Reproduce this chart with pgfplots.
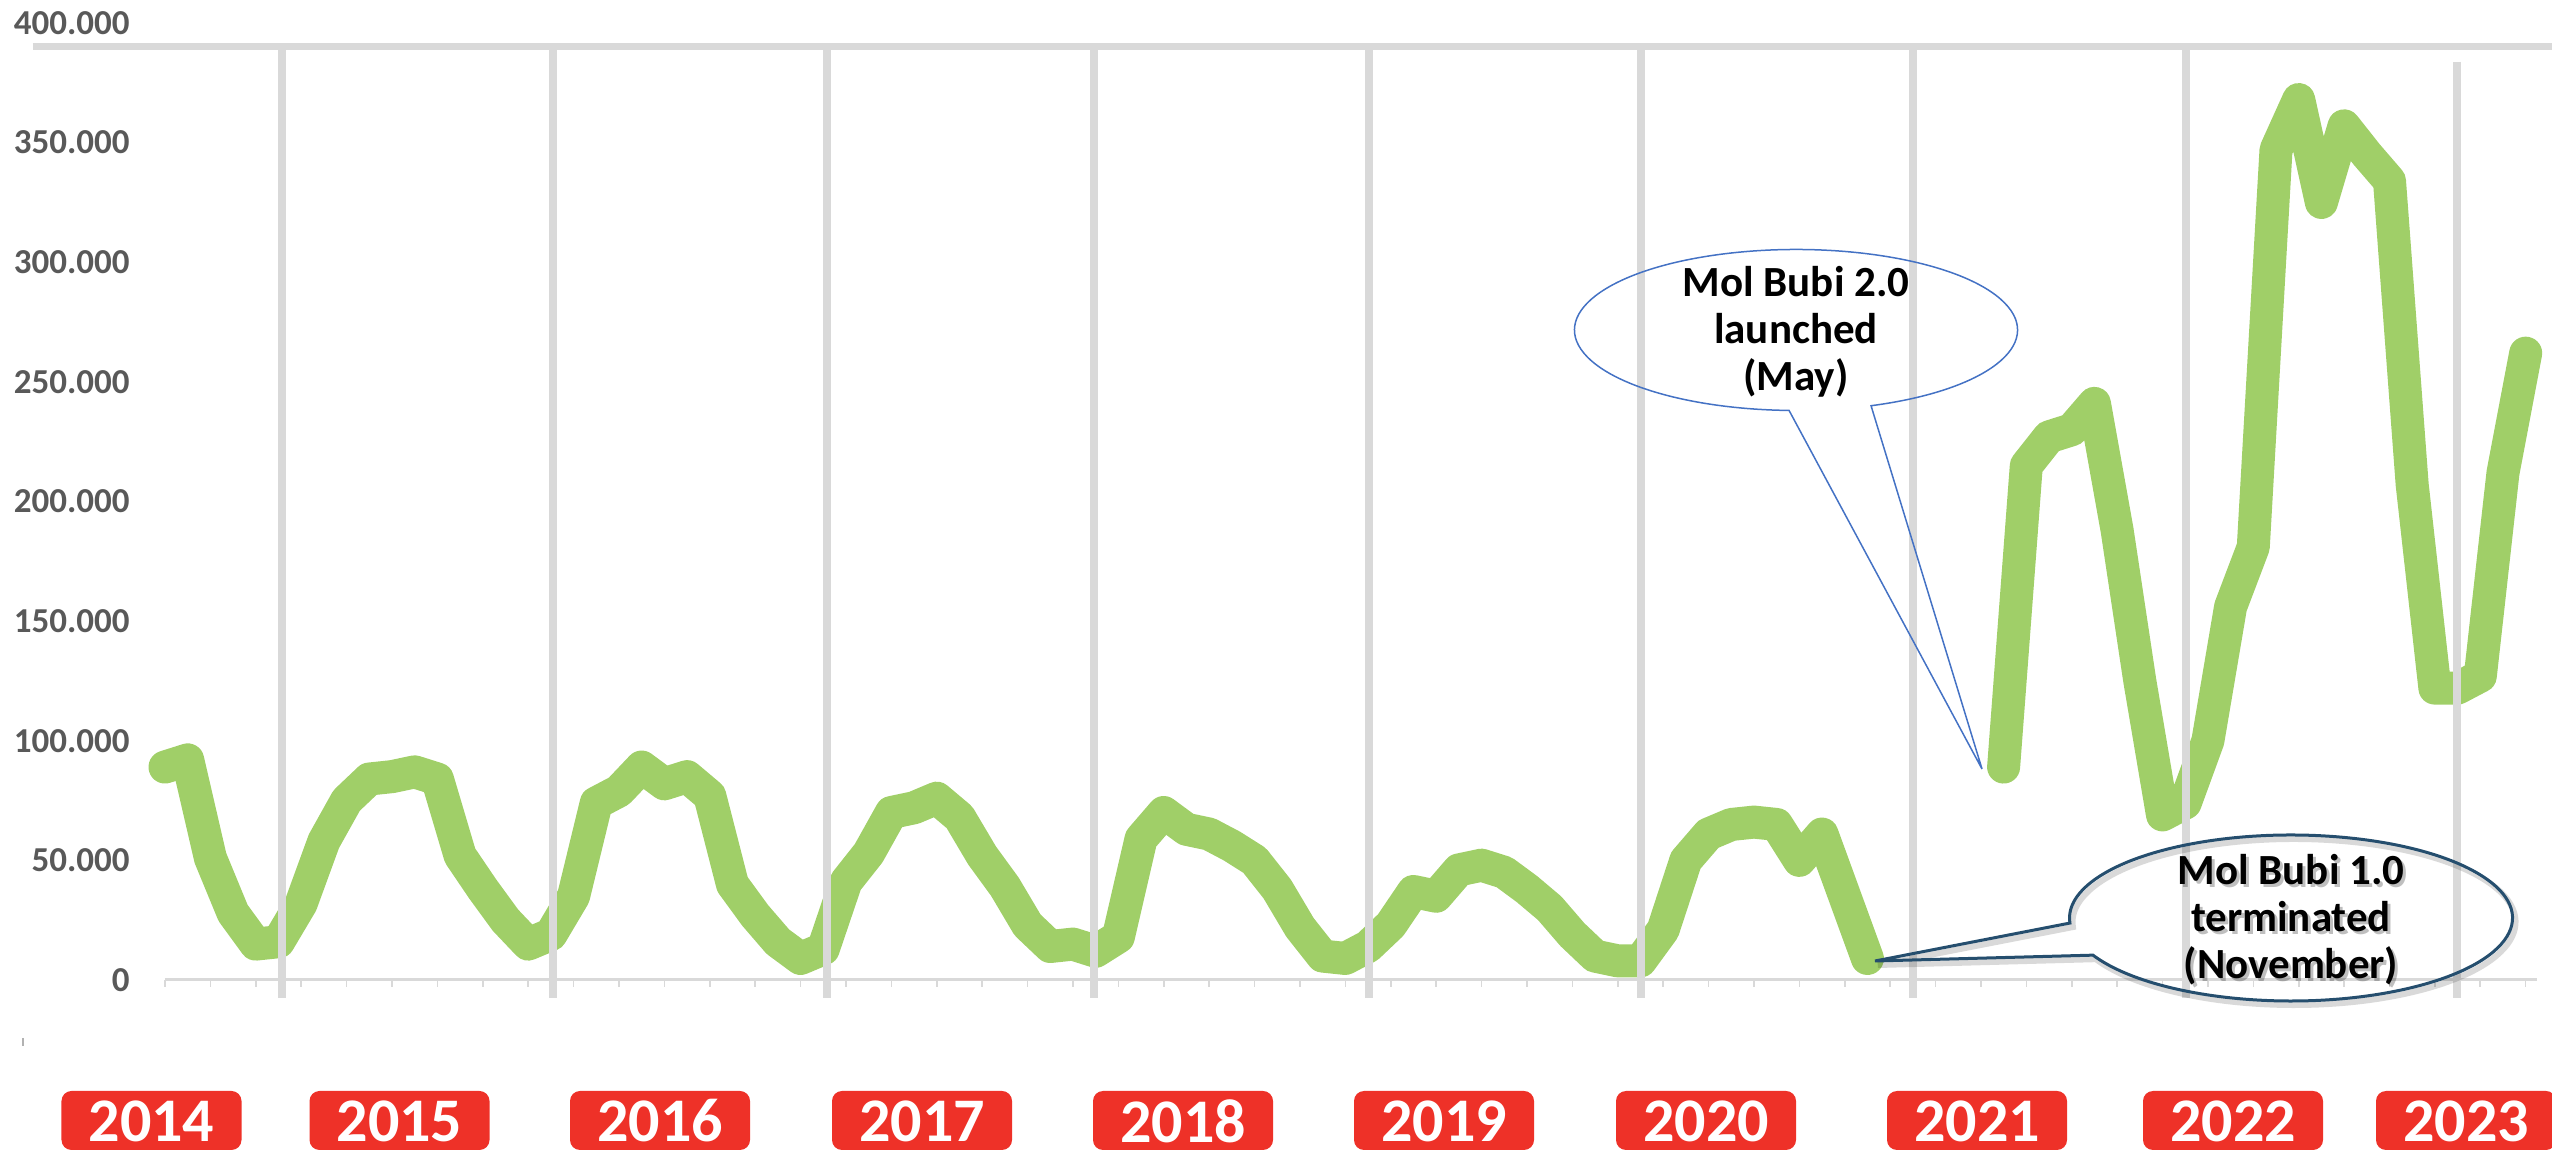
\documentclass[border=0pt]{standalone}
\usepackage{pgfplots}
\pgfplotsset{compat=1.18}
\usepackage{fontspec}
\setmainfont{Carlito}
\definecolor{bubigreen}{RGB}{160,207,104}
\definecolor{gridgray}{RGB}{217,217,217}
\definecolor{labelgray}{RGB}{89,89,89}
\definecolor{yearred}{RGB}{238,49,40}
\definecolor{calloutblue}{RGB}{68,114,196}
\definecolor{calloutdark}{RGB}{37,78,110}
\begin{document}
\begin{tikzpicture}
\path[use as bounding box] (-82.5pt,-87pt) rectangle (1193.5pt,490pt);
\begin{axis}[
  at={(0pt,0pt)}, anchor=south west,
  width=1186pt, height=478.5pt, scale only axis,
  xmin=0, xmax=104.5, ymin=0, ymax=400000,
  clip=false,
  axis x line*=bottom, axis y line*=left,
  x axis line style={draw=gridgray, line width=1.5pt, -},
  y axis line style={draw=none, -},
  xtick={0,2,...,104}, xticklabels={},
  xtick style={draw=gridgray, line width=0.8pt},
  xtick align=outside, major tick length=3.5pt,
  ytick={0,50000,...,400000},
  ytick style={draw=none},
  scaled y ticks=false,
  /pgf/number format/fixed,
  /pgf/number format/1000 sep={.},
  /pgf/number format/assume math mode=true,
  yticklabel style={font=\fontsize{17.5}{17.5}\selectfont\bfseries, text=labelgray, anchor=east, inner sep=0pt, xshift=-17.5pt},
]
\addplot[bubigreen, line width=16.5pt, line join=round, line cap=round] coordinates {
(0,89000) (1,92000) (2,51000) (3,28000) (4,15000) (5,16000) (6,32000) (7,58000) (8,75000) (9,84000) (10,85000) (11,87000) (12,84000) (13,52000) (14,38000) (15,25000) (16,15000) (17,19000) (18,35000) (19,74000) (20,79000) (21,89000) (22,82000) (23,85000) (24,77000) (25,40000) (26,27000) (27,16000) (28,9000) (29,13000) (30,41000) (31,53000) (32,70000) (33,72000) (34,76000) (35,68000) (36,52000) (37,39000) (38,23000) (39,14000) (40,15000) (41,12000) (42,18000) (43,59000) (44,70000) (45,63000) (46,61000) (47,56000) (48,50000) (49,38000) (50,22000) (51,10000) (52,9000) (53,14000) (54,23000) (55,37000) (56,35000) (57,46000) (58,48000) (59,45000) (60,38000) (61,30000) (62,19000) (63,10000) (64,8000) (65,8000) (66,21000) (67,50000) (68,61000) (69,65000) (70,66000) (71,65000) (72,50000) (73,61000) (74,35000) (75,9000)
};
\addplot[bubigreen, line width=16.5pt, line join=round, line cap=round] coordinates {
(81,89000) (82,215000) (83,227000) (84,230000) (85,241000) (86,188000) (87,125000) (88,69000) (89,74000) (90,100000) (91,156000) (92,181000) (93,347000) (94,368000) (95,325000) (96,357000) (97,345000) (98,334000) (99,207000) (100,122000) (101,122000) (102,127000) (103,212000) (104,262000)
};
\end{axis}
% year separator lines
\foreach \x in {58.5,194,331,464.5,602,738,874,1010.5}
  \draw[gridgray, line width=3.75pt] (\x pt,465pt) -- (\x pt,-9pt);
\draw[gridgray, line width=3.75pt] (1146pt,459pt) -- (1146pt,-9pt);
\draw[gridgray, line width=3.5pt] (-66pt,466.75pt) -- (1193.5pt,466.75pt);
\draw[gray!60, line width=0.6pt] (-71pt,-29pt) -- (-71pt,-33pt);
% year boxes
\foreach \x/\yr in {-6.75/2014, 117.25/2015, 247.5/2016, 378.5/2017, 509/2018, 639.5/2019, 770.5/2020, 906/2021, 1034/2022, 1150.5/2023}{
  \fill[yearred, rounded corners=5pt] ({\x pt-45pt},-85pt) rectangle ({\x pt+45pt},-55.5pt);
  \node[text=white, inner sep=0pt, font=\fontsize{31}{31}\selectfont\bfseries] at (\x pt,-70.5pt) {\yr};
}
% callout 1
\draw[calloutblue, line width=0.75pt] (908.5pt,105.5pt) -- ([shift={(815.5pt,325pt)}]289.8:110.75pt and 40.25pt) arc[start angle=289.8, end angle=628.2, x radius=110.75pt, y radius=40.25pt] -- cycle;
\node[align=center, inner sep=0pt, font=\fontsize{21.5}{23.5}\selectfont\bfseries] at (815.5pt,324pt) {Mol Bubi 2.0\\launched\\(May)};
% callout 2
\begin{scope}[shift={(1.5pt,-2pt)}]
\draw[black, opacity=0.15, line width=3pt] (855pt,9.5pt) -- ([shift={(1063pt,31pt)}]206.6:110.75pt and 41.5pt) arc[start angle=206.6, end angle=543.5, x radius=110.75pt, y radius=41.5pt] -- cycle;
\end{scope}
\draw[calloutdark, line width=1.5pt] (855pt,9.5pt) -- ([shift={(1063pt,31pt)}]206.6:110.75pt and 41.5pt) arc[start angle=206.6, end angle=543.5, x radius=110.75pt, y radius=41.5pt] -- cycle;
\node[align=center, inner sep=0pt, text=black, opacity=0.25, font=\fontsize{21.5}{23.5}\selectfont\bfseries] at (1064.5pt,28.5pt) {Mol Bubi 1.0\\terminated\\(November)};
\node[align=center, inner sep=0pt, font=\fontsize{21.5}{23.5}\selectfont\bfseries] at (1063pt,30pt) {Mol Bubi 1.0\\terminated\\(November)};
\end{tikzpicture}
\end{document}
